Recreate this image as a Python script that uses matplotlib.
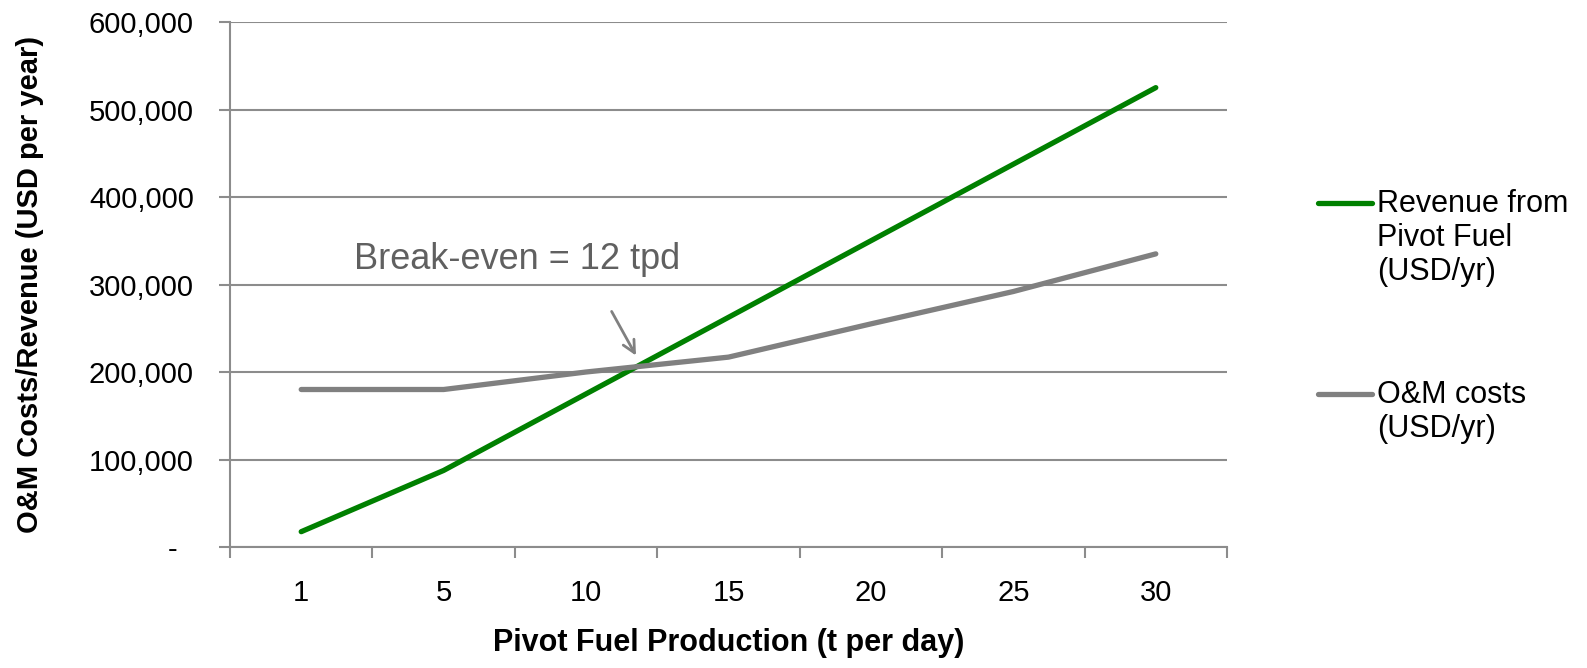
import matplotlib
matplotlib.use('Agg')
import matplotlib.pyplot as plt
from matplotlib.lines import Line2D
from matplotlib.ticker import FuncFormatter

# Dati
produzione = ['1', '5', '10', '15', '20', '25', '30']
ricavi = [17500, 87500, 175000, 262500, 350000, 437500, 525000]
costi_om = [180000, 180000, 200000, 217000, 255000, 292000, 335000]

verde = '#008000'
grigio = '#808080'
linea_grid = '#8c8c8c'

plt.rcParams['font.family'] = ['Liberation Sans', 'DejaVu Sans']

fig = plt.figure(figsize=(15.87, 6.68), dpi=100)
ax = fig.add_axes([230 / 1587, 1 - 547 / 668, 997 / 1587, 525 / 668])

x = list(range(len(produzione)))
ax.plot(x, ricavi, color=verde, lw=3.8, solid_capstyle='round', solid_joinstyle='round')
ax.plot(x, costi_om, color=grigio, lw=3.8, solid_capstyle='round', solid_joinstyle='round')

ax.set_xlim(-0.5, len(produzione) - 0.5)
ax.set_ylim(0, 600000)
ax.set_yticks(range(0, 600001, 100000))
ax.yaxis.set_major_formatter(FuncFormatter(lambda v, p: '-  ' if v == 0 else f'{int(v):,}'))
ax.grid(axis='y', color=linea_grid, lw=1.5)
ax.set_axisbelow(True)

# tick categorie: etichette al centro, trattini ai bordi
ax.set_xticks(x)
ax.set_xticklabels(produzione)
ax.set_xticks([i - 0.5 for i in range(len(produzione) + 1)], minor=True)
ax.tick_params(axis='x', which='major', length=0, pad=23, labelsize=21)
ax.tick_params(axis='x', which='minor', length=8, width=1.5, color=linea_grid)
ax.tick_params(axis='y', length=8, width=1.5, color=linea_grid, pad=18, labelsize=21)

for s in ['top', 'right']:
    ax.spines[s].set_visible(False)
for s in ['left', 'bottom']:
    ax.spines[s].set_color(linea_grid)
    ax.spines[s].set_linewidth(1.5)

ax.set_xlabel('Pivot Fuel Production (t per day)', fontsize=22, fontweight='bold', labelpad=15)
ax.set_ylabel('O&M Costs/Revenue (USD per year)', fontsize=21, fontweight='bold', labelpad=32)

# Annotazione break-even
ax.text(0.37, 329000, 'Break-even = 12 tpd', fontsize=26, color='#606060', va='center', ha='left')
ax.annotate('', xy=(2.36, 216000), xytext=(2.17, 272000),
            arrowprops=dict(arrowstyle='->', color=grigio, lw=2, mutation_scale=22))

# Legenda manuale (stile Excel)
legenda = [('Revenue from\nPivot Fuel\n(USD/yr)', verde, 203),
           ('O&M costs\n(USD/yr)', grigio, 394)]
for testo, col, ypx in legenda:
    yf = 1 - ypx / 668
    fig.add_artist(Line2D([1318 / 1587, 1372 / 1587], [yf, yf], color=col, lw=3.8,
                          solid_capstyle='round', transform=fig.transFigure))
    fig.text(1377 / 1587, yf + 14 / 668, testo, fontsize=22, va='top', ha='left',
             linespacing=1.17)

fig.savefig('out.png', dpi=100)
